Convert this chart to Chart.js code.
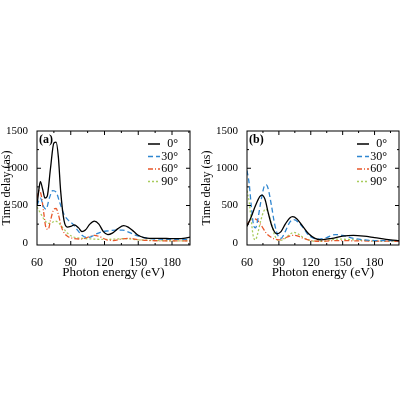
<!DOCTYPE html>
<html><head><meta charset="utf-8">
<script src="https://cdn.jsdelivr.net/npm/chart.js@4.4.1/dist/chart.umd.min.js"></script>
<style>
body{margin:0;background:#fff;width:400px;height:400px;position:relative;overflow:hidden}
.box{position:absolute;top:120px;width:200px;height:160px}
</style></head><body>
<div class="box" style="left:0"><canvas id="ca" width="200" height="160"></canvas></div>
<div class="box" style="left:200px"><canvas id="cb" width="200" height="160"></canvas></div>
<script>
// angle labels and tick values
const labels = ['0°', '30°', '60°', '90°'];
const xTicks = [60, 90, 120, 150, 180];
const yTicks = [0, 500, 1000, 1500];

// panel (a): [energy, delay] pairs
const a0 = [[60,500],[62,750],[63,820],[65,720],[67,600],[69,620],[72,1000],[75,1340],[77,1350],[79,1150],[81,700],[84,300],[87,210],[90,220],[93,240],[97,200],[100,150],[103,170],[107,250],[111,290],[115,250],[119,150],[123,110],[127,130],[132,190],[137,230],[141,210],[146,150],[150,100],[155,70],[160,60],[170,60],[180,55],[190,60],[196,75]];
const a30 = [[60,500],[63,600],[66,480],[68,450],[71,600],[74,700],[77,680],[80,550],[84,380],[88,300],[92,250],[96,170],[100,100],[104,70],[108,80],[113,120],[118,150],[124,160],[130,170],[136,170],[142,140],[148,100],[155,70],[165,50],[180,45],[196,45]];
const a60 = [[60,600],[62,700],[64,620],[66,400],[68,200],[70,180],[72,300],[75,450],[77,460],[79,380],[82,200],[86,100],[92,60],[100,50],[106,80],[111,100],[116,80],[122,40],[128,30],[135,50],[142,60],[150,40],[160,30],[180,25],[196,25]];
const a90 = [[60,480],[63,400],[66,320],[68,280],[70,260],[73,270],[76,290],[79,270],[83,200],[87,130],[92,80],[100,60],[110,50],[120,45],[130,50],[138,55],[150,40],[165,30],[196,25]];

// panel (b)
const b0 = [[60,220],[64,350],[68,500],[72,620],[74,640],[77,580],[80,400],[84,200],[88,120],[92,150],[96,250],[100,330],[103,350],[107,320],[112,230],[118,120],[124,60],[130,40],[140,60],[150,90],[160,100],[170,90],[180,70],[195,40],[203,30]];
const b30 = [[60,970],[62,800],[64,500],[66,250],[68,200],[70,300],[73,550],[76,750],[78,780],[80,720],[83,500],[86,250],[89,100],[92,60],[96,150],[100,270],[104,310],[108,280],[113,200],[118,100],[123,60],[128,50],[135,70],[143,110],[150,100],[160,60],[170,40],[180,30],[203,30]];
const b60 = [[60,250],[63,300],[67,320],[70,300],[74,220],[78,130],[82,80],[86,50],[90,40],[95,60],[100,90],[104,100],[108,90],[113,60],[120,30],[130,20],[145,30],[165,25],[203,20]];
const b90 = [[60,700],[62,550],[64,300],[66,80],[68,40],[70,120],[73,300],[76,430],[78,450],[80,400],[83,250],[86,100],[90,30],[95,50],[100,110],[104,140],[108,120],[113,70],[120,30],[130,20],[145,50],[160,40],[180,25],[203,20]];

const styles = [
  {color:'#000000', dash:[]},
  {color:'#2f86d0', dash:[5,3]},
  {color:'#e8572a', dash:[5,2,1,2]},
  {color:'#a8cc5c', dash:[2,2]}
];
const FONT = '"Liberation Serif", "DejaVu Serif", serif';

const framePlugin = {
  id: 'frame',
  afterDraw(chart, args, opts) {
    const {ctx, chartArea: ca, scales: {x, y}} = chart;
    ctx.save();
    ctx.strokeStyle = '#000'; ctx.lineWidth = 1;
    ctx.strokeRect(ca.left, ca.top, ca.right - ca.left, ca.bottom - ca.top);
    ctx.beginPath();
    for (let v = 45; v <= x.max; v += 15) {
      const px = x.getPixelForValue(v), len = (v % 30 === 0) ? 4 : 2;
      if (px <= ca.left || px >= ca.right) continue;
      ctx.moveTo(px, ca.bottom); ctx.lineTo(px, ca.bottom - len);
      ctx.moveTo(px, ca.top); ctx.lineTo(px, ca.top + len);
    }
    for (let v = 250; v < 1500; v += 250) {
      const py = y.getPixelForValue(v), len = (v % 500 === 0) ? 4 : 2;
      ctx.moveTo(ca.left, py); ctx.lineTo(ca.left + len, py);
      ctx.moveTo(ca.right, py); ctx.lineTo(ca.right - len, py);
    }
    ctx.stroke();
    // panel letter
    ctx.fillStyle = '#000';
    ctx.font = 'bold 12px ' + FONT;
    ctx.textBaseline = 'top';
    ctx.fillText(opts.tag, ca.left + 2, ca.top + 3);
    // legend
    ctx.font = '12px ' + FONT;
    ctx.textAlign = 'right';
    ctx.textBaseline = 'middle';
    chart.data.datasets.forEach((ds, i) => {
      const yy = ca.top + 13 + i * 12.5;
      const xr = ca.right - 12;
      ctx.strokeStyle = ds.borderColor; ctx.lineWidth = 1.5;
      ctx.setLineDash(ds.borderDash);
      ctx.beginPath(); ctx.moveTo(xr - 30, yy); ctx.lineTo(xr - 18, yy); ctx.stroke();
      ctx.setLineDash([]);
      ctx.fillText(ds.label, xr, yy);
    });
    ctx.restore();
  }
};

function makeChart(id, tag, series, xmax, yWidth, padRight) {
  new Chart(document.getElementById(id), {
    type: 'line',
    data: {
      datasets: series.map((s, i) => ({
        label: labels[i],
        data: s.map(p => ({x: p[0], y: p[1]})),
        borderColor: styles[i].color,
        borderDash: styles[i].dash,
        borderWidth: 1.3,
        pointRadius: 0,
        cubicInterpolationMode: 'monotone',
        fill: false
      }))
    },
    options: {
      responsive: false, animation: false,
      layout: {padding: {top: 11, right: padRight, left: 0, bottom: 0}},
      plugins: {legend: {display: false}, tooltip: {enabled: false}, frame: {tag}},
      scales: {
        x: {
          type: 'linear', min: 60, max: xmax,
          grid: {display: false}, border: {display: false},
          afterBuildTicks: ax => { ax.ticks = xTicks.map(v => ({value: v})); },
          ticks: {color: '#000', font: {family: FONT, size: 12}, maxRotation: 0, padding: 3,
                  callback: v => String(v)},
          title: {display: true, text: 'Photon energy (eV)', color: '#000', font: {family: FONT, size: 13}, padding: 0},
          afterFit: ax => { ax.height = 35; }
        },
        y: {
          min: -30, max: 1500,
          grid: {display: false}, border: {display: false},
          afterBuildTicks: ax => { ax.ticks = yTicks.map(v => ({value: v})); },
          ticks: {color: '#000', font: {family: FONT, size: 11}, padding: 1,
                  callback: v => String(v)},
          title: {display: true, text: 'Time delay (as)', color: '#000', font: {family: FONT, size: 12}, padding: 0},
          afterFit: ax => { ax.width = yWidth; }
        }
      }
    },
    plugins: [framePlugin]
  });
}

makeChart('ca', '(a)', [a0, a30, a60, a90], 196, 37, 10);
makeChart('cb', '(b)', [b0, b30, b60, b90], 203, 47, 1);
</script>
</body></html>
